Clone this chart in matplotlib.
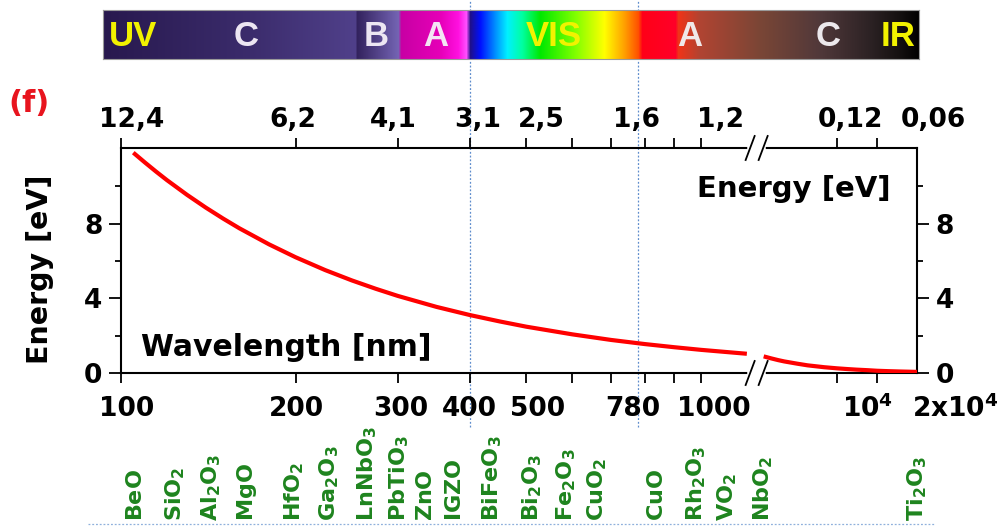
import numpy as np
import matplotlib
matplotlib.use("Agg")
import matplotlib.pyplot as plt
from matplotlib.lines import Line2D
from matplotlib.colors import to_rgb

# ---------------- data ----------------
left_wl = [105, 110, 115, 120, 130, 140, 150, 160, 180, 200, 225, 250, 275, 300, 350, 400,
           450, 500, 600, 700, 800, 900, 1000, 1100, 1200]
left_E = [11.8, 11.27, 10.78, 10.33, 9.54, 8.86, 8.27, 7.75, 6.89, 6.2, 5.51, 4.96, 4.51,
          4.13, 3.54, 3.1, 2.76, 2.48, 2.07, 1.77, 1.55, 1.38, 1.24, 1.13, 1.03]
right_wl = [1400, 1600, 1800, 2000, 2500, 3000, 4000, 5000, 6000, 7000, 8500, 10000, 12000,
            15000, 20000]
right_E = [0.89, 0.78, 0.69, 0.62, 0.50, 0.41, 0.31, 0.25, 0.21, 0.18, 0.15, 0.12, 0.10,
           0.08, 0.06]

x_tick_values = [100, 200, 300, 400, 500, 600, 700, 800, 900, 1000, 5000, 10000]
bottom_label_values = [100, 200, 300, 400, 500, 780, 1000, 10000, 20000]
bottom_label_texts = ["100", "200", "300", "400", "500", "780", "1000",
                      r"$\mathbf{10^4}$", r"$\mathbf{2x10^4}$"]
top_label_energies = [12.4, 6.2, 4.1, 3.1, 2.5, 1.6, 1.2, 0.12, 0.06]
top_label_texts = ["12,4", "6,2", "4,1", "3,1", "2,5", "1,6", "1,2", "0,12", "0,06"]
y_major = [0, 4, 8]
y_minor = [2, 6, 10]
vline_wl = [400, 780]

materials = ["BeO", "SiO_2", "Al_2O_3", "MgO", "HfO_2", "Ga_2O_3", "LnNbO_3", "PbTiO_3",
             "ZnO", "IGZO", "BiFeO_3", "Bi_2O_3", "Fe_2O_3", "CuO_2", "CuO", "Rh_2O_3",
             "VO_2", "NbO_2", "Ti_2O_3"]
material_wl = [106, 124, 143, 165, 199, 229, 266, 302, 336, 376, 437, 512, 586, 662,
               840, 980, 1109, 1390, 20000]

band_labels = ["UV", "C", "B", "A", "VIS", "A", "C", "IR"]

# ---------------- layout / style ----------------
W, H = 997, 526
fig = plt.figure(figsize=(W / 100, H / 100), dpi=100)
plt.rcParams["mathtext.fontset"] = "dejavusans"


def fx(px):
    return px / W


def fy(py):
    return 1 - py / H


AX_L, AX_R, AX_T, AX_B = 121, 917, 148, 373
ax = fig.add_axes([fx(AX_L), fy(AX_B), (AX_R - AX_L) / W, (AX_B - AX_T) / H])
AXW, AXH = AX_R - AX_L, AX_B - AX_T

# piecewise-log (broken) wavelength scale
K1, K2, LB, L0 = 581.0, 133.0, 1250.0, 100.0
BRK = K1 * np.log10(LB / L0)


def fwd(x):
    x = np.clip(np.asarray(x, dtype=float), 1e-6, None)
    return np.where(x <= LB, K1 * np.log10(x / L0), BRK + K2 * np.log10(x / LB))


def inv(y):
    y = np.asarray(y, dtype=float)
    with np.errstate(over="ignore"):
        return np.where(y <= BRK, L0 * 10 ** (y / K1), LB * 10 ** ((y - BRK) / K2))


ax.set_xscale("function", functions=(fwd, inv))
ax.set_xlim(100, 20000)
ax.set_ylim(0, 12.05)

red = "#ff0000"
ax.plot(left_wl, left_E, color=red, lw=3.0, solid_capstyle="butt", zorder=3)
ax.plot(right_wl, right_E, color=red, lw=3.0, solid_capstyle="butt", zorder=3)

for s in ax.spines.values():
    s.set_linewidth(1.5)
ax.xaxis.set_major_locator(matplotlib.ticker.FixedLocator(x_tick_values))
ax.xaxis.set_minor_locator(matplotlib.ticker.NullLocator())
ax.tick_params(axis="x", which="major", direction="out", length=7, width=1.3,
               top=True, bottom=True, labelbottom=False, labeltop=False)
ax.set_yticks(y_major)
ax.set_yticks(y_minor, minor=True)
ax.tick_params(axis="y", which="major", direction="out", length=8.5, width=1.3,
               left=True, right=True, labelleft=True, labelright=True,
               labelsize=19, pad=5)
ax.tick_params(axis="y", which="minor", direction="out", length=4.5, width=1.3,
               left=True, right=True)
for lab in ax.get_yticklabels():
    lab.set_fontweight("bold")

TXT = dict(fontweight="bold", color="black")
blend = matplotlib.transforms.blended_transform_factory(ax.transData, ax.transAxes)
offs = matplotlib.transforms.ScaledTranslation
TICKFS = 19

bottom_dx = [6, 1, 3, -1, 11, -6, 13, -10, 38]
for v, t, dx in zip(bottom_label_values, bottom_label_texts, bottom_dx):
    tr = blend + offs(dx / 100, 0, fig.dpi_scale_trans)
    ax.text(v, (AX_B - 409) / AXH, t, transform=tr, ha="center", va="center",
            fontsize=TICKFS, clip_on=False, **TXT)

top_dx = [11, -3, -6, 8, 17, 0, 11, -28, 14]
for e, t, dx in zip(top_label_energies, top_label_texts, top_dx):
    tr = blend + offs(dx / 100, 0, fig.dpi_scale_trans)
    ax.text(1240.0 / e, (AX_B - 120) / AXH, t, transform=tr, ha="center", va="center",
            fontsize=TICKFS, clip_on=False, **TXT)

# axis captions
ax.text(fx(286), fy(348), "Wavelength [nm]", transform=fig.transFigure, ha="center",
        va="center", fontsize=21.5, **TXT)
ax.text(fx(794), fy(189), "Energy [eV]", transform=fig.transFigure, ha="center",
        va="center", fontsize=21, **TXT)
fig.text(fx(40), fy(269), "Energy [eV]", rotation=90, ha="center", va="center",
         fontsize=20.5, **TXT)
fig.text(fx(29), fy(104), "(f)", ha="center", va="center", fontsize=22,
         fontweight="bold", color="#e8141e")

# break marks on the x axis
bx = ax.transData.transform([[LB, 1.0]])[0][0]
for ypx in (AX_B, AX_T):
    fig.add_artist(Line2D([fx(bx - 7), fx(bx + 6)], [fy(ypx), fy(ypx)],
                          color="white", lw=4, zorder=10))
    for c in (bx - 7, bx + 6):
        fig.add_artist(Line2D([fx(c - 4.5), fx(c + 4.5)], [fy(ypx + 12), fy(ypx - 12)],
                              color="black", lw=1.3, zorder=11))

# dotted guide lines
for v in vline_wl:
    ax.plot([v, v], [(AX_B - 427) / AXH, (AX_B - 0) / AXH], transform=blend,
            color="#5e8ccc", lw=0.9, ls=(0, (1.5, 1.5)), clip_on=False, zorder=1)
fig.add_artist(Line2D([fx(88), fx(935)], [fy(524), fy(524)], color="#8fb0dc",
                      lw=0.9, ls=(0, (1.5, 1.5))))

# material names
green = "#1e841e"
for m, v in zip(materials, material_wl):
    ax.text(v, (AX_B - 521) / AXH, r"$\mathbf{" + m + "}$", transform=blend, rotation=90,
            ha="center", va="bottom", fontsize=16, color=green, clip_on=False)

# spectrum bar
BAR_L, BAR_R, BAR_T, BAR_B = 103, 919, 10, 59
bax = fig.add_axes([fx(BAR_L), fy(BAR_B), (BAR_R - BAR_L) / W, (BAR_B - BAR_T) / H])
stops = [(103, "#28194e"), (250, "#3b2c6c"), (355, "#50408a"), (357, "#33235e"),
         (398, "#7464b4"), (401, "#c800a4"), (440, "#e600b8"), (458, "#ff10e0"),
         (466, "#ff50ff"), (470, "#20108a"), (480, "#0010ff"), (495, "#0090ff"),
         (507, "#00f0ff"), (522, "#00ffa0"), (540, "#00e800"), (575, "#80ff00"),
         (604, "#ffff00"), (624, "#ffa000"), (638, "#ff5000"), (642, "#ff0018"),
         (675, "#ff0028"), (678, "#f03418"), (700, "#b04432"), (760, "#7a4636"),
         (820, "#50383a"), (870, "#2c2224"), (900, "#141010"), (919, "#000000")]
xs = np.arange(BAR_L, BAR_R + 1)
sx = np.array([s[0] for s in stops], float)
sc = np.array([to_rgb(s[1]) for s in stops])
grad = np.stack([np.interp(xs, sx, sc[:, i]) for i in range(3)], axis=-1)[None, :, :]
bax.imshow(grad, aspect="auto", extent=[BAR_L, BAR_R, 0, 1], interpolation="bilinear")
bax.set_xlim(BAR_L, BAR_R)
bax.set_ylim(0, 1)
bax.set_xticks([])
bax.set_yticks([])
for s in bax.spines.values():
    s.set_color("#9a9a9a")
    s.set_linewidth(0.8)
band_x = [133, 246, 376, 436, 554, 690, 828, 898]
band_c = ["#f2f200", "#ece6f2", "#ece6f2", "#f4e4f4", "#f2f200", "#f0e8e8", "#ece8ec", "#f2f200"]
for t, x, c in zip(band_labels, band_x, band_c):
    fig.text(fx(x), fy(36), t, ha="center", va="center", fontsize=25, color=c,
             fontweight="bold", family=["Liberation Sans Narrow", "Liberation Sans", "DejaVu Sans"])

fig.savefig("out.png", dpi=100)
